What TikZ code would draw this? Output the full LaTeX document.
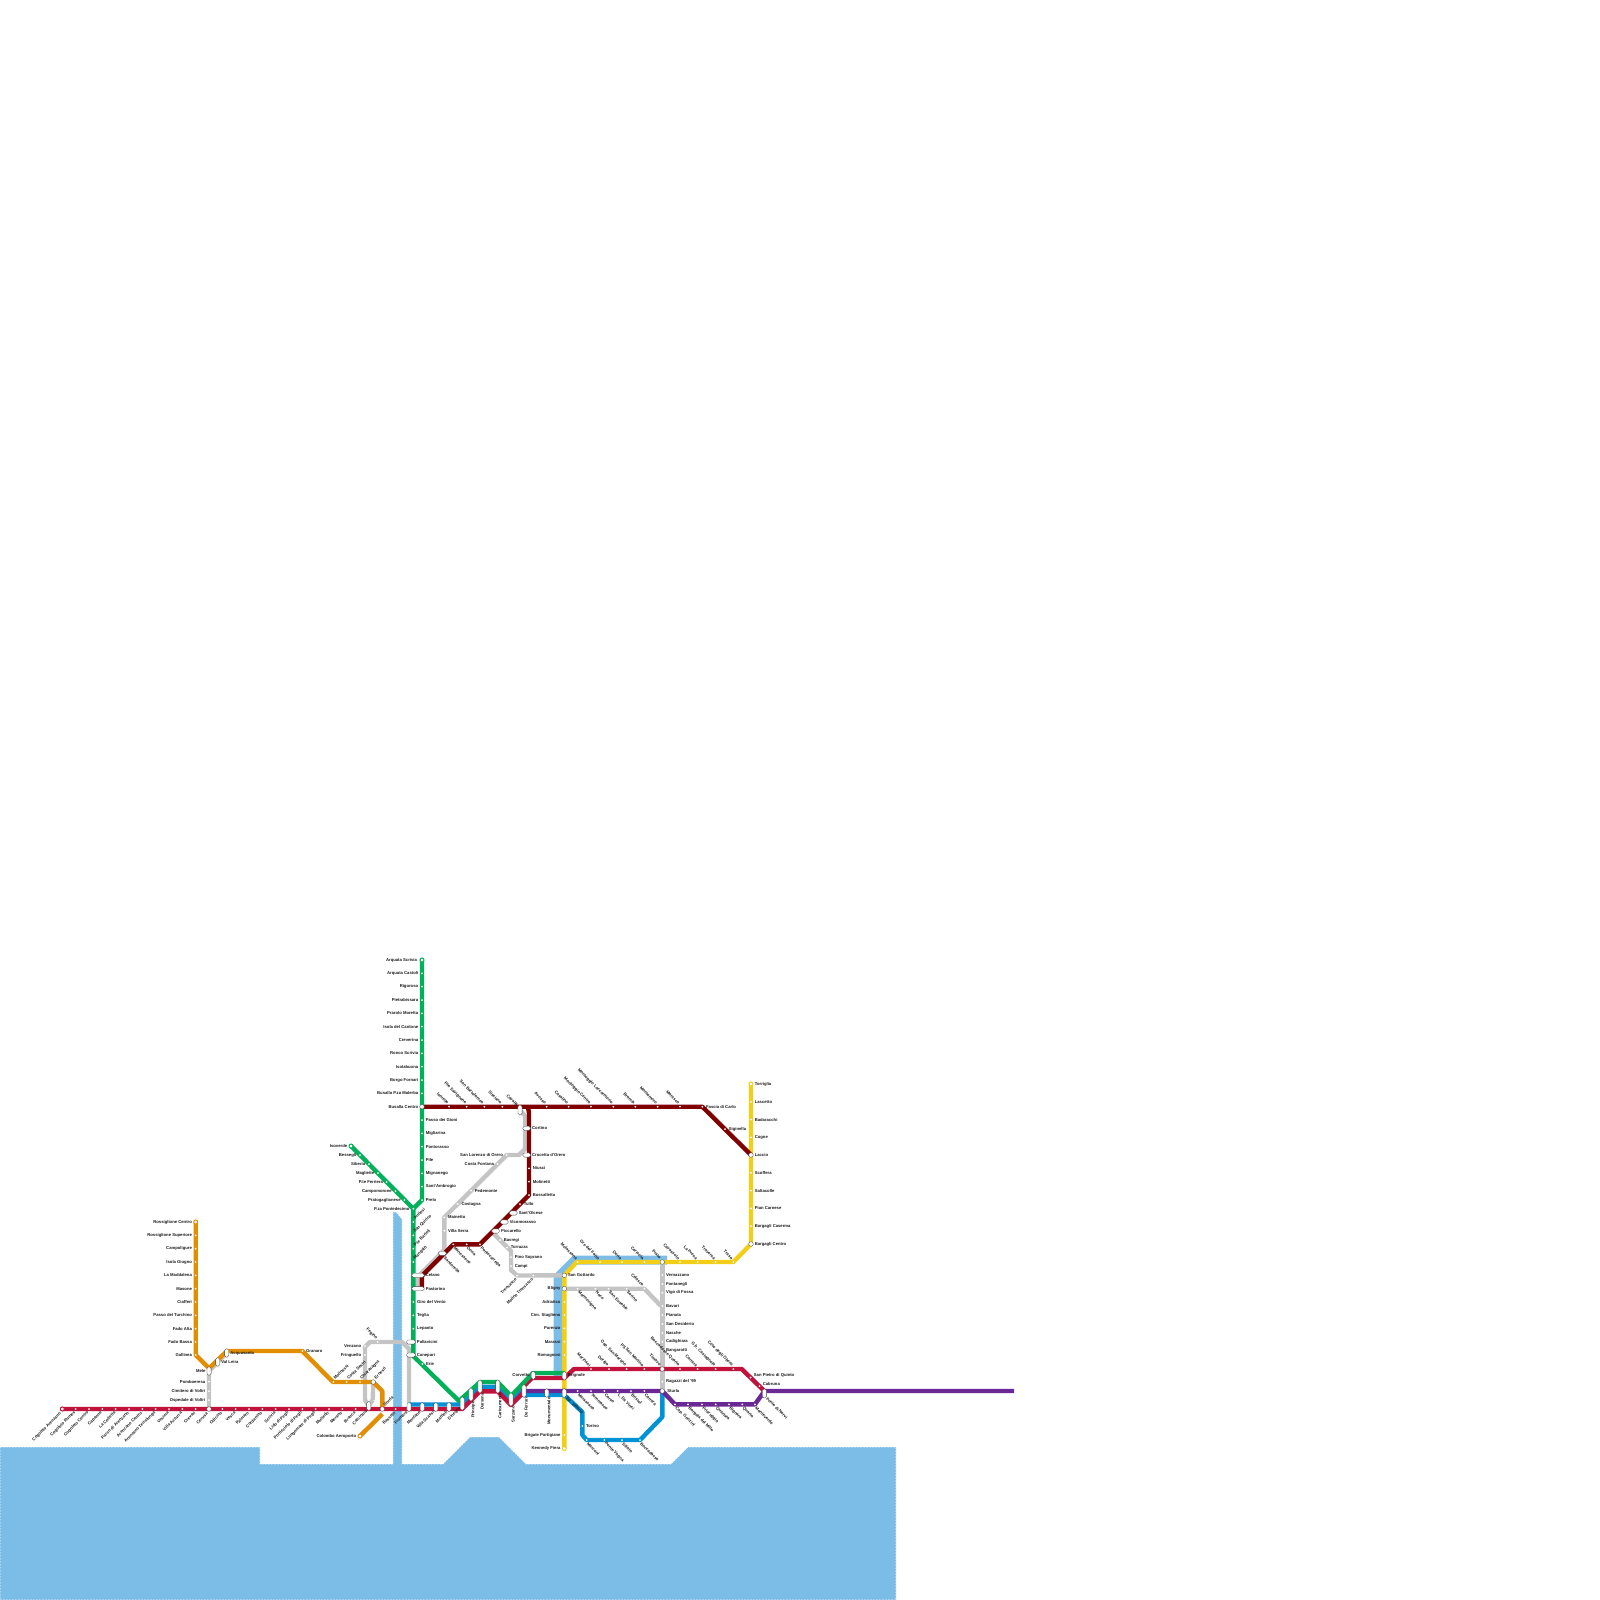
\documentclass[tikz,border=0pt]{standalone}
\usepackage{fontspec}
\setmainfont{Liberation Sans}
\usepackage{tikz}
\usetikzlibrary{backgrounds}
\definecolor{SeaBlue}{RGB}{124,189,232}
\definecolor{LineRed}{RGB}{194,18,60}
\definecolor{LineDark}{RGB}{128,0,0}
\definecolor{LineGreen}{RGB}{0,177,89}
\definecolor{LineOrange}{RGB}{227,142,0}
\definecolor{LineGrey}{RGB}{196,196,196}
\definecolor{LineYellow}{RGB}{242,207,22}
\definecolor{LineBlue}{RGB}{0,146,214}
\definecolor{LinePurple}{RGB}{106,40,150}
\tikzset{
  stop/.style={circle,fill=white,inner sep=0,minimum size=2},
  xch/.style={circle,fill=white,draw=black!75,line width=0.3,inner sep=0,minimum size=4.6},
  term/.style={circle,fill=white,draw=#1,line width=1,inner sep=0,minimum size=4},
  pillh/.style={rectangle,rounded corners=1.8,fill=white,draw=black!75,line width=0.3,inner sep=0,minimum width=#1,minimum height=4.2},
  pillv/.style={rectangle,rounded corners=1.8,fill=white,draw=black!75,line width=0.3,inner sep=0,minimum width=4.2,minimum height=#1},
  txt/.style={font=\fontsize{4.2}{5}\selectfont\bfseries,text=black!90,inner sep=0,label distance=2.4},
  tl/.style={label={[txt]180:#1}},
  tr/.style={label={[txt]0:#1}},
  tlc/.style={label={[txt,label distance=1.1]180:#1}},
  trc/.style={label={[txt,label distance=1.1]0:#1}},
  dl/.style={label={[txt,rotate=45,anchor=east,label distance=2.2]225:#1}},
  ur/.style={label={[txt,rotate=45,anchor=west,label distance=2.2]45:#1}},
  ul/.style={label={[txt,rotate=-45,anchor=east,label distance=2.2]135:#1}},
  dr/.style={label={[txt,rotate=-45,anchor=west,label distance=2.2]315:#1}},
  dn/.style={label={[txt,rotate=90,anchor=east,label distance=2.2]270:#1}},
  metro/.style={line width=4.4,line join=round,draw=#1},
  river/.style={draw=white,dash pattern=on 1.5pt off 1.5pt,line width=0.6,fill=SeaBlue}
}
\begin{document}
\begin{tikzpicture}[x=1pt,y=-1pt]
  \useasboundingbox (0,0) rectangle (1600,1600);

  % bends of the lines
  \coordinate (bOrA) at (195.7,1355);
  \coordinate (bOrB) at (209,1368.3);
  \coordinate (bOrC) at (227,1351);
  \coordinate (bOrD) at (302.3,1351);
  \coordinate (bOrE) at (333,1382);
  \coordinate (bOrF) at (382.3,1391);
  \coordinate (bOrG) at (382.3,1414);
  \coordinate (bGrA) at (413.3,1356);
  \coordinate (bGrB) at (459,1401);
  \coordinate (bGrC) at (480,1382);
  \coordinate (bGrD) at (497.7,1382);
  \coordinate (bGrE) at (511,1396);
  \coordinate (bGrF) at (533,1373);
  \coordinate (bGrG) at (564.3,1373);
  \coordinate (bBlA) at (409,1404.5);
  \coordinate (bBlB) at (462.3,1404.5);
  \coordinate (bBlC) at (480,1386.7);
  \coordinate (bBlD) at (497.7,1386.7);
  \coordinate (bBlE) at (511,1400.5);
  \coordinate (bBlF) at (524,1388);
  \coordinate (bBlK) at (524,1395);
  \coordinate (bBlG) at (564.3,1395);
  \coordinate (bBlH) at (582.3,1412);
  \coordinate (bBlI) at (582.3,1435);
  \coordinate (bBlJ) at (662.3,1417);
  \coordinate (bReA) at (462.3,1409);
  \coordinate (bReB) at (480,1391.3);
  \coordinate (bReC) at (497.7,1391.3);
  \coordinate (bReD) at (511,1405);
  \coordinate (bReJ) at (523,1393);
  \coordinate (bReK) at (524,1386);
  \coordinate (bReE) at (532,1378);
  \coordinate (bReF) at (564.3,1378);
  \coordinate (bReG) at (574,1369);
  \coordinate (bReH) at (741.7,1369);
  \coordinate (bReI) at (764.3,1391);
  \coordinate (bPuB) at (755,1404.3);
  \coordinate (bPuC) at (1014,1391);
  \coordinate (bPuD) at (764.5,1391);
  \coordinate (bDkA) at (528,1107);
  \coordinate (bDkB) at (529,1113);
  \coordinate (bDkC) at (421.8,1276);
  \coordinate (bDkD) at (421.8,1288.7);
  \coordinate (bYeA) at (576.7,1262);
  \coordinate (bYeB) at (733.3,1262);
  \coordinate (bGyA) at (525,1116);
  \coordinate (bGyB) at (525,1149);
  \coordinate (bGyC) at (519,1155);
  \coordinate (bGyD) at (444.3,1250);
  \coordinate (bGyE) at (417.5,1277);
  \coordinate (bGyF) at (417.5,1288);
  \coordinate (bGyG) at (491.5,1231.5);
  \coordinate (bGyH) at (511,1251);
  \coordinate (bGyI) at (511,1270);
  \coordinate (bGyJ) at (517,1275.5);
  \coordinate (bGyK) at (661,1306);
  \coordinate (bGyL) at (409,1349);
  \coordinate (bGyM) at (402,1342);
  \coordinate (bGyN) at (370,1342);
  \coordinate (bGyO) at (365,1347);
  \coordinate (bGyP) at (365,1400);
  \coordinate (bGyQ) at (372.7,1400);

  % green
  \node[term=LineGreen,tl={Arquata Scrivia}] (arquata) at (422,960) {};
  \node[stop,tl={Arquata Castoli}] (castoli) at (422,973.3) {};
  \node[stop,tl={Rigoroso}] (rigoroso) at (422,986.7) {};
  \node[stop,tl={Pietrabissara}] (pietrab) at (422,1000) {};
  \node[stop,tl={Prarolo Moretta}] (prarolo) at (422,1013.3) {};
  \node[stop,tl={Isola del Cantone}] (isola) at (422,1026.7) {};
  \node[stop,tl={Creverina}] (creverina) at (422,1040) {};
  \node[stop,tl={Ronco Scrivia}] (ronco) at (422,1053.3) {};
  \node[stop,tl={Isolabuona}] (isolab) at (422,1066.7) {};
  \node[stop,tl={Borgo Fornari}] (borgo) at (422,1080) {};
  \node[stop,tl={Busalla P.za Malerba}] (malerba) at (422,1093.3) {};
  \node[xch,tlc={Busalla Centro}] (busalla) at (422,1106.7) {};
  \node[stop,tr={Passo dei Gioni}] (gioni) at (422,1120) {};
  \node[stop,tr={Migliarina}] (miglia) at (422,1133.3) {};
  \node[stop,tr={Pontorasso}] (pontor) at (422,1146.7) {};
  \node[stop,tr={Pile}] (pile) at (422,1160) {};
  \node[stop,tr={Mignanego}] (mignan) at (422,1173.3) {};
  \node[stop,tr={Sant'Ambrogio}] (ambrog) at (422,1186.7) {};
  \node[stop,tr={Prelo}] (prelo) at (422,1200) {};
  \node[term=LineGreen,tlc={Isoverde}] (isoverde) at (351,1146) {};
  \node[stop,tl={Bessegli}] (bessegli) at (360,1155) {};
  \node[stop,tl={Siberia}] (siberia) at (369,1164) {};
  \node[stop,tl={Magliette}] (magliet) at (378,1173) {};
  \node[stop,tl={P.te Ferriera}] (ferriera) at (386.7,1182) {};
  \node[stop,tl={Campomorone}] (campom) at (395.5,1191) {};
  \node[stop,tl={Pratogaglianese}] (pratog) at (404.4,1200) {};
  \node[stop,tl={P.za Pontedecimo}] (pontedec) at (413.3,1208.7) {};
  \node[stop,ur={Antiosi}] (antiosi) at (413.3,1222) {};
  \node[stop,ur={San Quirico}] (quirico) at (413.3,1235.3) {};
  \node[stop,ur={P.te Bartoli}] (bartoli) at (413.3,1248.7) {};
  \node[stop,ur={Mangalò}] (mangalo) at (413.3,1262) {};
  \node[pillh=12.6,trc={Celano}] (celano) at (418,1275.3) {};
  \node[pillh=12.6,trc={Pastorino}] (pastor) at (418,1288.7) {};
  \node[stop,tr={Giro del Vento}] (girov) at (413.3,1302) {};
  \node[stop,tr={Teglia}] (teglia) at (413.3,1315.3) {};
  \node[stop,tr={Lepanto}] (lepanto) at (413.3,1328.7) {};
  \node[pillh=9,trc={Pallavicini}] (pallav) at (411,1342) {};
  \node[pillh=9,trc={Canepari}] (canepari) at (411,1355) {};
  \node[stop,tr={Erie}] (erie) at (422.3,1364) {};

  % orange
  \node[term=LineOrange,tlc={Rossiglione Centro}] (rossig) at (195.7,1222) {};
  \node[stop,tl={Rossiglione Superiore}] (rossup) at (195.7,1235.3) {};
  \node[stop,tl={Campoligure}] (campol) at (195.7,1248.7) {};
  \node[stop,tl={Isola Giugno}] (giugno) at (195.7,1262) {};
  \node[stop,tl={La Maddalena}] (maddal) at (195.7,1275.3) {};
  \node[stop,tl={Masone}] (masone) at (195.7,1288.7) {};
  \node[stop,tl={Ciafferi}] (ciafferi) at (195.7,1302) {};
  \node[stop,tl={Passo del Turchino}] (turchino) at (195.7,1315.3) {};
  \node[stop,tl={Fado Alta}] (fadoa) at (195.7,1328.7) {};
  \node[stop,tl={Fado Bassa}] (fadob) at (195.7,1342) {};
  \node[stop,tl={Gallinea}] (gallinea) at (195.7,1355) {};
  \node[pillv=8.6,tlc={Mele}] (mele) at (209,1371) {};
  \node[pillv=8.6,trc={Val Leira}] (valleira) at (217.7,1362) {};
  \node[pillv=8.6,trc={Acquasanta}] (acquas) at (226.7,1353) {};
  \node[stop,tr={Granaro}] (granaro) at (302.3,1351) {};
  \node[stop,ur={Molinassi}] (molinassi) at (333.3,1382) {};
  \node[stop,ur={Costa Sestri}] (costas) at (346.7,1382) {};
  \node[stop,ur={Chiaravagna}] (chiarav) at (360,1382) {};
  \node[xch,ur={Ernesti}] (ernesti) at (373.3,1382) {};
  \node[term=LineOrange,tlc={Colombo Aeroporto}] (colombo) at (360,1436) {};

  % grey
  \node[stop,tl={Pomboeresa}] (fornb) at (209,1381.7) {};
  \node[stop,tl={Cimitero di Voltri}] (cimit) at (209,1391) {};
  \node[stop,tl={Ospedale di Voltri}] (osped) at (209,1400) {};
  \node[stop,ul={Fegino}] (fegino) at (377.7,1342) {};
  \node[stop,tl={Venzano}] (venzano) at (365,1346) {};
  \node[stop,tl={Fringuello}] (fringu) at (365,1355) {};
  \node[pillv=10,ul={Cavalla}] (cavalla) at (520,1110) {};
  \node[pillh=8,trc={Cortino}] (cortino) at (526.7,1128.3) {};
  \node[pillh=8,trc={Crocetta d'Orero}] (crocetta) at (526.7,1155) {};
  \node[stop,tl={San Lorenzo di Orero}] (slorenzo) at (506.7,1155) {};
  \node[stop,tl={Costa Fontana}] (costaf) at (497.7,1164) {};
  \node[stop,tr={Pedemonte}] (pedem) at (471,1190.7) {};
  \node[stop,tr={Costagna}] (costagna) at (457.7,1204) {};
  \node[stop,tr={Mainetto}] (mainetto) at (444.3,1217.3) {};
  \node[stop,tr={Villa Serra}] (villas) at (444.3,1230.7) {};
  \node[stop,tr={Bavregi}] (bavregi) at (500,1240) {};
  \node[stop,tr={Torrazza}] (torrazza) at (507,1247.5) {};
  \node[stop,tr={Pino Soprano}] (pinos) at (511,1257) {};
  \node[stop,tr={Campi}] (campi) at (511,1266) {};
  \node[stop,dl={Trensasco}] (trens) at (517,1275.5) {};
  \node[stop,dl={Molino Trensasco}] (molino) at (533.3,1275.5) {};
  \node[stop,dr={Marmorigno}] (marmor) at (577.7,1288.7) {};
  \node[stop,dr={Noce}] (noce) at (595.3,1288.7) {};
  \node[stop,dr={San Eusebio}] (eusebio) at (608.7,1288.7) {};
  \node[stop,dr={Serino}] (serino) at (626.7,1288.7) {};
  \node[stop,ul={Celasco}] (celasco) at (644.3,1288.7) {};
  \node[stop,tr={Vernazzano}] (vernaz) at (662.3,1275) {};
  \node[stop,tr={Fontanegli}] (fontan) at (662.3,1284) {};
  \node[stop,tr={Vigo di Fossa}] (vigo) at (662.3,1292.7) {};
  \node[stop,tr={Bavari}] (bavari) at (662.3,1306) {};
  \node[stop,tr={Pianata}] (pianata) at (662.3,1315) {};
  \node[stop,tr={San Desiderio}] (desider) at (662.3,1324) {};
  \node[stop,tr={Nasche}] (nasche) at (662.3,1333) {};
  \node[stop,tr={Cadighiara}] (cadigh) at (662.3,1341.7) {};
  \node[stop,tr={Bangarotti}] (bangar) at (662.3,1350.7) {};
  \node[stop,tr={Ragazzi del '99}] (ragazzi) at (662.3,1381.7) {};

  % dark red
  \node[stop,ul={Isorelle}] (isorelle) at (449,1106.7) {};
  \node[stop,ul={P.te Savignone}] (savign) at (466.7,1106.7) {};
  \node[stop,ul={San Bartolomeo}] (bartol) at (484.3,1106.7) {};
  \node[stop,ul={Sisciano}] (sisciano) at (502.3,1106.7) {};
  \node[stop,ul={Avosso}] (avosso) at (546.7,1106.7) {};
  \node[stop,ul={Casalino}] (casalino) at (568.7,1106.7) {};
  \node[stop,ul={Montoggio Centro}] (montoc) at (591,1106.7) {};
  \node[stop,ul={Montoggio Laccarotorio}] (montol) at (613.3,1106.7) {};
  \node[stop,ul={Bromia}] (bromia) at (635.3,1106.7) {};
  \node[stop,ul={Montemoro}] (montem) at (657.7,1106.7) {};
  \node[stop,ul={Morasco}] (morasco) at (680,1106.7) {};
  \node[stop,tr={Fascia di Carlo}] (fascia) at (702.3,1106.7) {};
  \node[stop,tr={Siginella}] (siginella) at (725,1129) {};
  \node[stop,tr={Niusci}] (niusci) at (529,1168.3) {};
  \node[stop,tr={Molinetti}] (molinetti) at (529,1181.7) {};
  \node[stop,tr={Bussalletta}] (bussal) at (529,1195) {};
  \node[stop,tr={Tullo}] (tullo) at (520,1204) {};
  \node[pillh=8,trc={Sant'Olcese}] (olcese) at (513.3,1213) {};
  \node[pillh=8,trc={Vicomorasso}] (vicom) at (504.3,1222) {};
  \node[pillh=8,trc={Piccarello}] (piccar) at (495.7,1231) {};
  \node[stop,dr={Pontecarrega}] (pontec) at (480,1244.3) {};
  \node[stop,dr={Doria}] (doria) at (466.7,1244.3) {};
  \node[stop,dr={Manesseno}] (manes) at (453.3,1244.3) {};
  \node[pillh=8,dr={Sardorella}] (sardor) at (442.3,1253.3) {};

  % yellow
  \node[term=LineYellow,trc={Torriglia}] (torriglia) at (751,1084) {};
  \node[stop,tr={Lascetto}] (lascetto) at (751,1101.8) {};
  \node[stop,tr={Badaracchi}] (badar) at (751,1119.6) {};
  \node[stop,tr={Cugne}] (cugne) at (751,1137.3) {};
  \node[xch,trc={Laccio}] (laccio) at (751,1155) {};
  \node[stop,tr={Scoffera}] (scoffera) at (751,1172.8) {};
  \node[stop,tr={Saltacolle}] (saltac) at (751,1190.6) {};
  \node[stop,tr={Pian Carnese}] (carnese) at (751,1208.4) {};
  \node[stop,tr={Bargagli Caserma}] (caserma) at (751,1226.2) {};
  \node[xch,trc={Bargagli Centro}] (bargagli) at (751,1244) {};
  \node[stop,ul={Traso}] (traso) at (733.3,1262) {};
  \node[stop,ul={Traversa}] (traversa) at (715.7,1262) {};
  \node[stop,ul={La Presa}] (lapresa) at (697.7,1262) {};
  \node[stop,ul={Cavassolo}] (cavass) at (680,1262) {};
  \node[xch,ul={Prato}] (prato) at (662.3,1262) {};
  \node[stop,ul={Cerisola}] (cerisola) at (644.3,1262) {};
  \node[stop,ul={Doria}] (doriay) at (622,1262) {};
  \node[stop,ul={Gre del Fatto}] (grefatto) at (600,1262) {};
  \node[stop,ul={Molassana}] (molass) at (577.7,1262) {};
  \node[xch,trc={San Gottardo}] (gottardo) at (564.3,1275.3) {};
  \node[xch,tlc={Bligny}] (bligny) at (564.3,1288.7) {};
  \node[stop,tl={Adriatico}] (adriat) at (564.3,1302) {};
  \node[stop,tl={Cim. Staglieno}] (stagl) at (564.3,1315) {};
  \node[stop,tl={Parenzo}] (parenzo) at (564.3,1328.3) {};
  \node[stop,tl={Marassi}] (marassi) at (564.3,1341.7) {};
  \node[stop,tl={Romagnosi}] (romag) at (564.3,1355) {};
  \node[pillv=8.4,trc={Brignole}] (brignole) at (564.3,1375.7) {};
  \node[pillv=9,dr={Sp. Vittoria}] (vittoria) at (564.3,1393) {};
  \node[stop,tl={Brigate Partigiane}] (brigate) at (564.3,1435) {};
  \node[term=LineYellow,tlc={Kennedy Fiera}] (kennedy) at (564.3,1448.5) {};

  % crimson
  \node[term=LineRed,dl={Cogoleto Arenzano}] (cogol) at (62.3,1409) {};
  \node[stop,dl={Cogoleto Rumes}] (rumes) at (75.7,1409) {};
  \node[stop,dl={Cogoleto Centro}] (cogolc) at (89,1409) {};
  \node[stop,dl={Capanne}] (capanne) at (102.3,1409) {};
  \node[stop,dl={La Colletta}] (colletta) at (115.7,1409) {};
  \node[stop,dl={Parco di Arenzano}] (parco) at (129,1409) {};
  \node[stop,dl={Arenzano Centro}] (arenc) at (142.3,1409) {};
  \node[stop,dl={Arenzano Terralunga}] (arent) at (155.7,1409) {};
  \node[stop,dl={Vesima}] (vesima) at (169,1409) {};
  \node[stop,dl={Villa Azzurra}] (azzurra) at (182.3,1409) {};
  \node[stop,dl={Crevari}] (crevari) at (195.7,1409) {};
  \node[xch,dl={Cerusa}] (cerusa) at (209,1409) {};
  \node[stop,dl={Odicino}] (odicino) at (222.3,1409) {};
  \node[stop,dl={Vesca}] (vesca) at (235.7,1409) {};
  \node[stop,dl={Palmaro}] (palmaro) at (249,1409) {};
  \node[stop,dl={Cordanino}] (cordan) at (262.3,1409) {};
  \node[stop,dl={Scrivia}] (scrivia) at (275.7,1409) {};
  \node[stop,dl={Lido di Pegli}] (lido) at (289,1409) {};
  \node[stop,dl={Porticciolo di Pegli}] (portic) at (302.3,1409) {};
  \node[stop,dl={Lungomare di Pegli}] (lungo) at (315.7,1409) {};
  \node[stop,dl={Multedo}] (multedo) at (329,1409) {};
  \node[stop,dl={Merano}] (merano) at (342.3,1409) {};
  \node[stop,dl={Branca}] (branca) at (355.7,1409) {};
  \node[pillv=9,dl={Calcinara}] (calcin) at (368.7,1406) {};
  \node[xch,ur={Sturla}] (ponente) at (382.3,1409) {};
  \node[stop,dl={Bassetti}] (bassetti) at (395.7,1409) {};
  \node[pillv=9,dl={Fiumara}] (fiumara) at (409,1407) {};
  \node[pillv=9,dl={Montano}] (montano) at (422.3,1407) {};
  \node[pillv=9,dl={Villa Scassi}] (scassi) at (435.7,1407) {};
  \node[pillv=9,dl={Mattioli}] (mattioli) at (449,1407) {};
  \node[pillv=13,dl={Dinegro}] (dinegro) at (462.3,1403.5) {};
  \node[pillv=13,dn={Principe}] (principe) at (471,1394.5) {};
  \node[pillv=13,dn={Darsena}] (darsena) at (480,1386.5) {};
  \node[pillv=13,dn={Caricamento}] (caric) at (497.7,1386.5) {};
  \node[pillv=13,dn={Sarzano}] (sarzano) at (511,1399.5) {};
  \node[pillv=12.5,dn={De Ferrari}] (ferrari) at (524,1391) {};
  \node[pillv=8,tlc={Corvetto}] (corvetto) at (533.3,1375.3) {};
  \node[pillv=8.5,dn={Monumentale}] (monum) at (546.7,1393) {};
  \node[stop,ul={Marinasi}] (marinasi) at (591,1369) {};
  \node[stop,ul={Dorigo}] (dorigo) at (609,1369) {};
  \node[stop,ul={Osp. San Martino}] (ospm) at (626.7,1369) {};
  \node[stop,ul={PS San Martino}] (psm) at (644.3,1369) {};
  \node[xch,ul={Timavo}] (timavo) at (662.3,1369) {};
  \node[stop,ul={Boccadasse Quarto}] (bocq) at (680,1369) {};
  \node[stop,ul={Carrara}] (carrara) at (697.7,1369) {};
  \node[stop,ul={G.b. Castagnola}] (castagn) at (715.7,1369) {};
  \node[stop,ul={Cote degli Oberti}] (oberti) at (733.3,1369) {};
  \node[stop,label={[txt,anchor=west]30:San Pietro di Quinto}] (spietro) at (750.6,1377.5) {};
  \node[stop,label={[txt,anchor=west]30:Cabruna}] (cabruna) at (759.5,1386) {};
  \node[pillv=9,dr={Ponte di Nervi}] (nervi) at (764.5,1393.5) {};

  % blue and purple
  \node[stop,tr={Torino}] (torino) at (582.3,1426) {};
  \node[stop,dr={Marconi}] (marconi) at (586.7,1440) {};
  \node[stop,dr={Ponte Vagna}] (vagna) at (604.3,1440) {};
  \node[stop,dr={Siliato}] (siliato) at (622,1440) {};
  \node[stop,dr={Boccadasse}] (boccad) at (640,1440) {};
  \node[stop,dr={Marassana}] (marass) at (577.7,1391) {};
  \node[stop,dr={Tommaseo}] (tommas) at (591,1391) {};
  \node[stop,dr={Corso}] (corso) at (604.3,1391) {};
  \node[stop,dr={L. Da Vinci}] (davinci) at (617.7,1391) {};
  \node[stop,dr={Bristol}] (bristol) at (631,1391) {};
  \node[stop,dr={Carrara}] (carraraw) at (644.3,1391) {};
  \node[xch,tr={Sturla}] (sturla) at (662.3,1391) {};
  \node[stop,dr={Cap. Gonzini}] (gonzini) at (675,1404.3) {};
  \node[stop,dr={Borgata del Mille}] (mille) at (688,1404.3) {};
  \node[stop,dr={Priaruggia}] (priar) at (702,1404.3) {};
  \node[stop,dr={Quartara}] (quarr) at (715.7,1404.3) {};
  \node[stop,dr={Bignara}] (bignara) at (729,1404.3) {};
  \node[stop,dr={Quarto}] (quarto) at (742.3,1404.3) {};
  \node[stop,dr={Monteverde}] (monteverde) at (755,1404.3) {};

  \begin{scope}[on background layer]
    \path[river] (0,1447) -- (260,1447) -- (260,1464) -- (393,1464) -- (393,1212) -- (396,1212)
      -- (402,1219) -- (402,1464) -- (443,1464) -- (470,1437) -- (499,1437) -- (526,1464)
      -- (671,1464) -- (688,1447) -- (896,1447) -- (896,1600) -- (0,1600) -- cycle;
    \draw[line width=9,SeaBlue,line join=round] (667,1260) -- (575,1260) -- (558,1277) -- (558,1378);

    \draw[metro=LineGrey] (bGyQ) -- (ernesti.center);
    \draw[metro=LineGrey] (calcin.center) -- (bGyP) -- (bGyO) -- (bGyN) -- (bGyM) -- (bGyL) -- (fiumara.center);
    \draw[metro=LineGrey] (calcin.center) -- (bGyQ);
    \draw[metro=LineGrey] (cerusa.center) -- (mele.center) -- (acquas.center);
    \draw[metro=LineGrey] (cavalla.center) -- (bGyA) -- (bGyB) -- (bGyC) -- (slorenzo.center) -- (mainetto.center)
      -- (bGyD) -- (bGyE) -- (bGyF);
    \draw[metro=LineGrey] (bGyG) -- (bGyH) -- (bGyI) -- (bGyJ) -- (gottardo.center);
    \draw[metro=LineGrey] (bligny.center) -- (celasco.center) -- (bGyK);
    \draw[metro=LineGrey] (prato.center) -- (sturla.center);

    \draw[metro=LineOrange] (rossig.center) -- (bOrA) -- (bOrB) -- (bOrC) -- (bOrD) -- (bOrE) -- (ernesti.center)
      -- (bOrF) -- (ponente.center);
    \draw[metro=LineOrange] (bOrG) -- (colombo.center);
    \draw[metro=LineYellow] (torriglia.center) -- (bargagli.center) -- (bYeB) -- (bYeA) -- (gottardo.center)
      -- (kennedy.center);
    \draw[metro=LineDark] (busalla.center) -- (fascia.center) -- (laccio.center);
    \draw[metro=LineDark] (bDkA) -- (bDkB) -- (bussal.center) -- (pontec.center) -- (manes.center) -- (bDkC)
      -- (bDkD);
    \draw[metro=LineBlue] (bBlA) -- (bBlB) -- (bBlC) -- (bBlD) -- (bBlE) -- (bBlF) -- (bBlK) -- (bBlG) -- (bBlH)
      -- (bBlI) -- (marconi.center) -- (boccad.center) -- (bBlJ) -- (sturla.center);
    \draw[metro=LineRed] (cogol.center) -- (bReA) -- (bReB) -- (bReC) -- (bReD) -- (bReJ) -- (bReK) -- (bReE)
      -- (bReF) -- (bReG) -- (bReH) -- (bReI);
    \draw[metro=LinePurple] (ferrari.center) -- (sturla.center) -- (gonzini.center) -- (bPuB) -- (bPuD) -- (bPuC);
    \draw[metro=LineGreen] (arquata.center) -- (prelo.center) -- (pontedec.center) -- (isoverde.center);
    \draw[metro=LineGreen] (pontedec.center) -- (bGrA) -- (bGrB) -- (bGrC) -- (bGrD) -- (bGrE) -- (bGrF) -- (bGrG);
  \end{scope}
\end{tikzpicture}
\end{document}
